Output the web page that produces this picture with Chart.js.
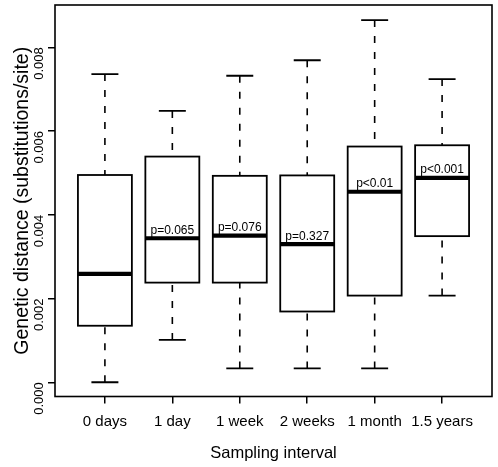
<!DOCTYPE html>
<html>
<head>
<meta charset="utf-8">
<script src="https://cdn.jsdelivr.net/npm/chart.js@4/dist/chart.umd.min.js"></script>
<style>
html,body{margin:0;padding:0;background:#fff;}
#wrap{width:498px;height:467px;}
</style>
</head>
<body>
<div id="wrap"><canvas id="c" width="498" height="467"></canvas></div>
<script>
// ---- data ----
const categories = ["0 days", "1 day", "1 week", "2 weeks", "1 month", "1.5 years"];
const whiskerLow  = [0.0000, 0.00101, 0.00033, 0.00033, 0.00033, 0.00207];
const quartile1   = [0.00135, 0.00238, 0.00238, 0.00169, 0.00207, 0.00349];
const medians     = [0.00259, 0.00344, 0.00350, 0.00330, 0.00455, 0.00488];
const quartile3   = [0.00495, 0.00539, 0.00493, 0.00494, 0.00563, 0.00566];
const whiskerHigh = [0.00736, 0.00648, 0.00732, 0.00769, 0.00865, 0.00724];
const pLabels     = ["", "p=0.065", "p=0.076", "p=0.327", "p<0.01", "p<0.001"];
const yTicks      = [0.000, 0.002, 0.004, 0.006, 0.008];

const FONT = "'Liberation Sans', Arial, Helvetica, sans-serif";

const boxPlugin = {
  id: 'boxplot',
  afterDatasetsDraw(chart) {
    const ctx = chart.ctx;
    const xS = chart.scales.x, yS = chart.scales.y;
    const X = v => xS.getPixelForValue(v);
    const Y = v => yS.getPixelForValue(v);
    ctx.save();
    categories.forEach((c, i) => {
      const cx = i + 1;
      const xc = X(cx), bl = X(cx - 0.4), br = X(cx + 0.4);
      const cl = X(cx - 0.2), cr = X(cx + 0.2);
      ctx.strokeStyle = '#000';
      // whiskers (dashed)
      ctx.lineWidth = 1.6;
      ctx.setLineDash([7, 9]);
      ctx.beginPath();
      ctx.moveTo(xc, Y(whiskerHigh[i])); ctx.lineTo(xc, Y(quartile3[i]));
      ctx.moveTo(xc, Y(whiskerLow[i]));  ctx.lineTo(xc, Y(quartile1[i]));
      ctx.stroke();
      ctx.setLineDash([]);
      // caps
      ctx.lineWidth = 1.8;
      ctx.beginPath();
      ctx.moveTo(cl, Y(whiskerHigh[i])); ctx.lineTo(cr, Y(whiskerHigh[i]));
      ctx.moveTo(cl, Y(whiskerLow[i]));  ctx.lineTo(cr, Y(whiskerLow[i]));
      ctx.stroke();
      // box
      ctx.lineWidth = 1.8;
      ctx.fillStyle = '#fff';
      const top = Y(quartile3[i]), bot = Y(quartile1[i]);
      ctx.fillRect(bl, top, br - bl, bot - top);
      ctx.strokeRect(bl, top, br - bl, bot - top);
      // median
      ctx.lineWidth = 4.2;
      ctx.beginPath();
      ctx.moveTo(bl, Y(medians[i])); ctx.lineTo(br, Y(medians[i]));
      ctx.stroke();
      // p label
      if (pLabels[i]) {
        ctx.fillStyle = '#000';
        ctx.font = '12px ' + FONT;
        ctx.textAlign = 'center';
        ctx.textBaseline = 'alphabetic';
        ctx.fillText(pLabels[i], xc, Y(medians[i]) - 4.5);
      }
    });
    // frame
    const a = chart.chartArea;
    ctx.lineWidth = 1.6;
    ctx.strokeStyle = '#000';
    ctx.strokeRect(a.left, a.top, a.right - a.left, a.bottom - a.top);
    ctx.restore();
  }
};

new Chart(document.getElementById('c'), {
  type: 'scatter',
  data: {
    datasets: [{
      data: medians.map((m, i) => ({x: i + 1, y: m})),
      pointRadius: 0,
      showLine: false
    }]
  },
  options: {
    responsive: false,
    devicePixelRatio: 1,
    animation: false,
    layout: { padding: { top: 5, right: 6, left: 0, bottom: 0 } },
    plugins: { legend: { display: false }, tooltip: { enabled: false } },
    scales: {
      x: {
        type: 'linear',
        min: 0.26, max: 6.74,
        afterBuildTicks: s => { s.ticks = categories.map((c, i) => ({ value: i + 1 })); },
        afterFit: s => { s.height = 70.5; s.paddingLeft = 0; s.paddingRight = 0; },
        border: { display: false },
        grid: { drawOnChartArea: false, drawTicks: true, tickLength: 7, color: '#000', lineWidth: 1.5 },
        ticks: {
          callback: v => categories[v - 1],
          autoSkip: false, maxRotation: 0, minRotation: 0,
          color: '#000', font: { family: FONT, size: 15 }, padding: 9
        },
        title: { display: true, text: 'Sampling interval', color: '#000',
                 font: { family: FONT, size: 16.5 }, padding: { top: 0, bottom: 4 } }
      },
      y: {
        min: -0.00034, max: 0.00901,
        afterBuildTicks: s => { s.ticks = yTicks.map(v => ({ value: v })); },
        afterFit: s => { s.width = 55; s.paddingTop = 0; s.paddingBottom = 0; },
        border: { display: false },
        grid: { drawOnChartArea: false, drawTicks: true, tickLength: 7, color: '#000', lineWidth: 1.5 },
        ticks: {
          callback: v => v.toFixed(3),
          minRotation: 90, maxRotation: 90,
          color: '#000', font: { family: FONT, size: 13 }, padding: 9
        },
        title: { display: true, text: 'Genetic distance (substitutions/site)', color: '#000',
                 font: { family: FONT, size: 19.5 }, padding: { top: 11, bottom: 0 } }
      }
    }
  },
  plugins: [boxPlugin]
});
</script>
</body>
</html>
